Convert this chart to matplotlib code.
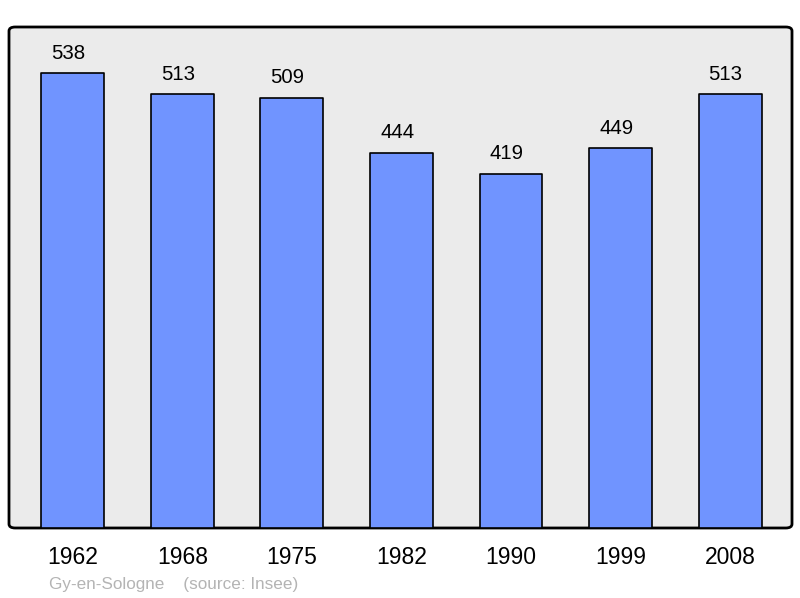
import matplotlib
matplotlib.use("Agg")
import matplotlib.pyplot as plt
from matplotlib.patches import FancyBboxPatch

plt.rcParams['font.family'] = ['Liberation Sans', 'DejaVu Sans']

annees = ["1962", "1968", "1975", "1982", "1990", "1999", "2008"]
population = [538, 513, 509, 444, 419, 449, 513]

fig = plt.figure(figsize=(8, 5.98), dpi=100)
ax = fig.add_axes([9/800, 70/598, 783/800, 501/598])
ax.set_facecolor('none')

# fond gris avec coins arrondis
fond = FancyBboxPatch((0, 0), 1, 1, boxstyle="round,pad=0,rounding_size=0.008",
                      transform=ax.transAxes, facecolor='#ebebeb', edgecolor='black',
                      linewidth=2, zorder=0, clip_on=False)
ax.add_patch(fond)

x = list(range(len(annees)))
barres = ax.bar(x, population, width=0.575, color='#7094ff', edgecolor='black',
                linewidth=1.2, zorder=2)
for b in barres:
    b.set_joinstyle('round')

for xi, v in zip(x, population):
    ax.text(xi - 0.04, v + 12, str(v), ha='center', va='bottom', fontsize=14.7, zorder=3)

ax.set_xlim(-0.584, 6.566)
ax.set_ylim(0, 592.4)
ax.set_xticks(x)
ax.set_xticklabels(annees, fontsize=16.5)
ax.tick_params(axis='x', length=0, pad=13)
ax.set_yticks([])
for s in ax.spines.values():
    s.set_visible(False)

fig.text(49/800, 1 - 584/598, "Gy-en-Sologne    (source: Insee)", fontsize=12.3,
         color='#b4b4b4', ha='left', va='center')

fig.savefig("out.png", dpi=100)
